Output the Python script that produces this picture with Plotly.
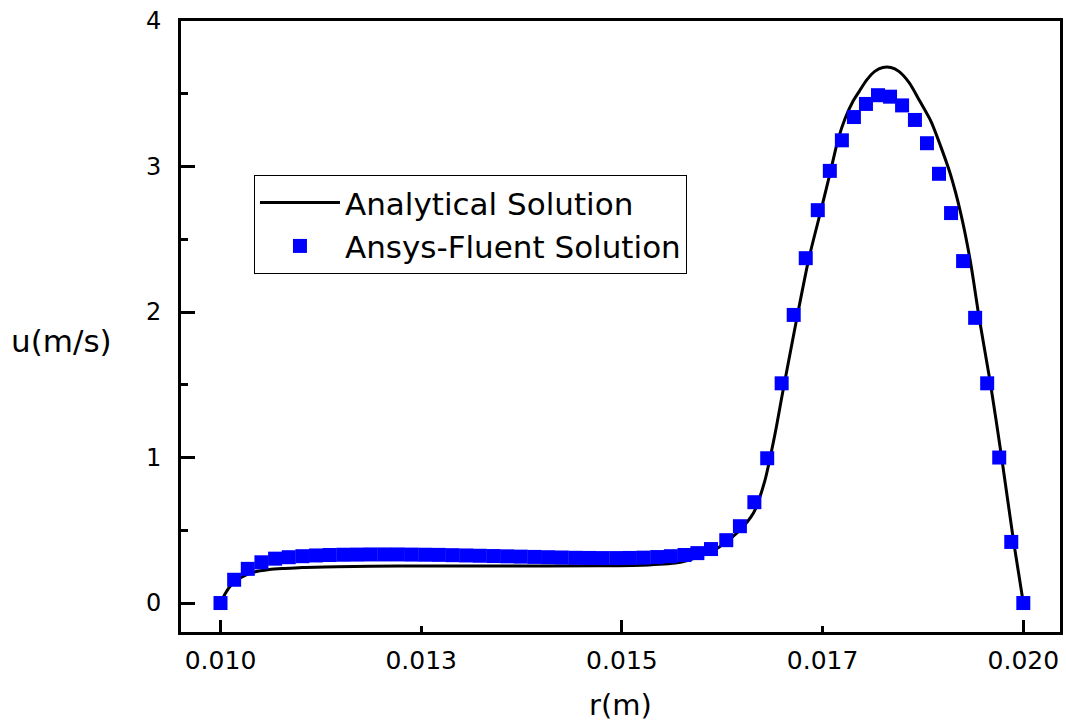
import plotly.graph_objects as go

# ---------------- data ----------------
# Analytical solution
r_analytical = [0.01000, 0.01003, 0.01006, 0.01010, 0.01016, 0.01025, 0.01040, 0.01061,
                0.01080, 0.01102, 0.01145, 0.01223, 0.01347, 0.01471, 0.01533, 0.01573,
                0.01592, 0.01620, 0.01645, 0.01664, 0.01678, 0.01691, 0.01700, 0.01718,
                0.01733, 0.01748, 0.01760, 0.01769, 0.01778, 0.01788, 0.01796, 0.01805,
                0.01815, 0.01825, 0.01835, 0.01845, 0.01858, 0.01871, 0.01885, 0.01897,
                0.01909, 0.01922, 0.01934, 0.01945, 0.01959, 0.01973, 0.01988, 0.02000]
u_analytical = [0.000, 0.035, 0.065, 0.100, 0.140, 0.175, 0.210, 0.230,
                0.238, 0.245, 0.250, 0.254, 0.254, 0.256, 0.262, 0.280,
                0.310, 0.380, 0.490, 0.620, 0.840, 1.170, 1.440, 1.960,
                2.370, 2.700, 2.970, 3.180, 3.330, 3.450, 3.520, 3.595,
                3.654, 3.681, 3.681, 3.654, 3.575, 3.450, 3.310, 3.140,
                2.950, 2.680, 2.350, 1.960, 1.510, 1.000, 0.420, 0.000]

# Ansys-Fluent solution (blue squares)
r_fluent = [0.01000, 0.01017, 0.01034, 0.01051, 0.01068, 0.01085, 0.01102, 0.01119,
            0.01136, 0.01153, 0.01170, 0.01187, 0.01204, 0.01221, 0.01238, 0.01255,
            0.01272, 0.01289, 0.01306, 0.01323, 0.01340, 0.01357, 0.01374, 0.01391,
            0.01408, 0.01425, 0.01442, 0.01459, 0.01476, 0.01493, 0.01510, 0.01527,
            0.01544, 0.01561, 0.01578, 0.01594, 0.01611, 0.01630, 0.01647, 0.01665,
            0.01681, 0.01699, 0.01714, 0.01729, 0.01744, 0.01759, 0.01774, 0.01789,
            0.01804, 0.01819, 0.01834, 0.01849, 0.01865, 0.01880, 0.01895, 0.01910,
            0.01925, 0.01940, 0.01955, 0.01970, 0.01985, 0.02000]
u_fluent = [0.000, 0.160, 0.235, 0.280, 0.305, 0.315, 0.322, 0.327,
            0.330, 0.332, 0.333, 0.334, 0.334, 0.334, 0.333, 0.332,
            0.331, 0.329, 0.327, 0.325, 0.323, 0.321, 0.319, 0.317,
            0.315, 0.313, 0.311, 0.310, 0.309, 0.309, 0.310, 0.312,
            0.316, 0.322, 0.330, 0.343, 0.371, 0.432, 0.528, 0.693,
            0.995, 1.510, 1.980, 2.370, 2.700, 2.970, 3.180, 3.340,
            3.430, 3.490, 3.480, 3.420, 3.320, 3.160, 2.950, 2.680,
            2.350, 1.960, 1.510, 1.000, 0.420, 0.000]

x_tick_vals = [0.0100, 0.0125, 0.0150, 0.0175, 0.0200]
x_tick_text = ["0.010", "0.013", "0.015", "0.017", "0.020"]
x_long_ticks = [0.0100, 0.0150, 0.0200]
y_tick_vals = [0, 1, 2, 3, 4]

x_range = [0.009508, 0.020457]
y_range = [-0.199, 4.0]

FONT = "DejaVu Sans"

fig = go.Figure()
fig.add_trace(go.Scatter(
    x=r_analytical, y=u_analytical, mode="lines", name="Analytical Solution",
    line=dict(color="black", width=3, shape="spline", smoothing=0.7),
))
fig.add_trace(go.Scatter(
    x=r_fluent, y=u_fluent, mode="markers", name="Ansys-Fluent Solution",
    marker=dict(symbol="square", size=14, color="#0000FF", line=dict(width=0)),
))
# invisible trace carrying the overlay axis used for the long x ticks
fig.add_trace(go.Scatter(
    x=x_long_ticks, y=[0, 0, 0], mode="markers", xaxis="x2", showlegend=False,
    marker=dict(opacity=0), hoverinfo="skip",
))

fig.update_layout(
    width=1066, height=722,
    margin=dict(l=181, r=3, t=21, b=90),
    paper_bgcolor="white", plot_bgcolor="white",
    font=dict(family=FONT, color="black"),
    showlegend=True,
    legend=dict(
        x=0.083, y=0.748, xanchor="left", yanchor="top",
        bgcolor="white", bordercolor="black", borderwidth=1,
        font=dict(family=FONT, size=31, color="black"),
        itemwidth=80, tracegroupgap=0,
    ),
    xaxis=dict(
        range=x_range, tickmode="array", tickvals=x_tick_vals, ticktext=x_tick_text,
        ticks="inside", ticklen=6, tickwidth=3, tickcolor="black",
        showline=True, linecolor="black", linewidth=3, mirror=True,
        showgrid=False, zeroline=False,
        tickfont=dict(family=FONT, size=25, color="black"),
        ticklabelstandoff=4,
    ),
    xaxis2=dict(
        range=x_range, overlaying="x", anchor="y", side="bottom",
        tickmode="array", tickvals=x_long_ticks, showticklabels=False,
        ticks="inside", ticklen=12, tickwidth=3, tickcolor="black",
        showline=False, showgrid=False, zeroline=False,
    ),
    yaxis=dict(
        range=y_range, tickmode="array", tickvals=y_tick_vals,
        ticks="inside", ticklen=14, tickwidth=3, tickcolor="black",
        minor=dict(dtick=0.5, tick0=0, ticks="inside", ticklen=7, tickwidth=3, tickcolor="black"),
        showline=True, linecolor="black", linewidth=3, mirror=True,
        showgrid=False, zeroline=False,
        tickfont=dict(family=FONT, size=24, color="black"),
        ticklabelstandoff=12,
    ),
    annotations=[
        dict(text="r(m)", xref="paper", yref="paper", x=0.5, y=-0.12,
             xanchor="center", yanchor="middle", showarrow=False,
             font=dict(family=FONT, size=29, color="black")),
        dict(text="u(m/s)", xref="paper", yref="paper", x=-0.136, y=0.476,
             xanchor="center", yanchor="middle", showarrow=False,
             font=dict(family=FONT, size=31, color="black")),
    ],
)

fig.write_html("out.html")
